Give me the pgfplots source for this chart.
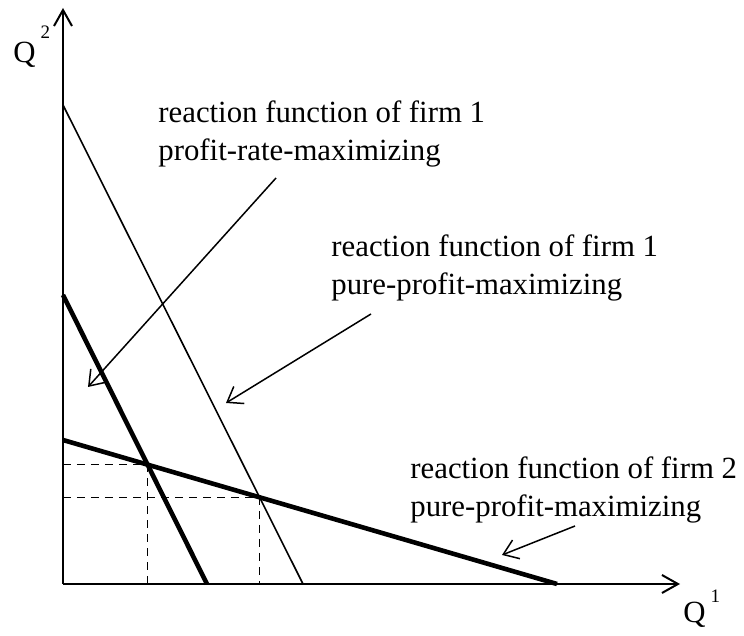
\documentclass[border=0pt]{standalone}
\usepackage{pgfplots}
\pgfplotsset{compat=1.18}
\usepackage{fontspec}
\setmainfont{Liberation Serif}
\usetikzlibrary{arrows.meta}

\tikzset{lbl/.style={font=\fontsize{15.4}{19}\selectfont, inner sep=0pt}}

\begin{document}
\begin{tikzpicture}
\begin{axis}[
    x=0.5pt, y=0.5pt,
    xmin=0, xmax=617,
    ymin=0, ymax=576,
    axis lines=left,
    axis line style={line width=1pt, -{Straight Barb[length=8pt,width=9pt,line width=1pt]}},
    xtick=\empty, ytick=\empty,
    clip=false,
]
% reaction functions
\addplot[black, line width=0.8pt] coordinates {(0,479) (240,0)};
\addplot[black, line width=2.3pt] coordinates {(0,289) (144,0)};
\addplot[black, line width=2.3pt] coordinates {(0,144) (494,0)};
% equilibria
\addplot[black, line width=0.5pt, dash pattern=on 4pt off 3pt] coordinates {(0,119.4) (84.5,119.4) (84.5,0)};
\addplot[black, line width=0.5pt, dash pattern=on 4pt off 3pt] coordinates {(0,86.7) (196.5,86.7) (196.5,0)};

% annotations
\draw[line width=0.75pt, -{Straight Barb[length=7pt,width=10pt]}] (axis cs:213,406) -- (axis cs:25,197);
\draw[line width=0.75pt, -{Straight Barb[length=7pt,width=10pt]}] (axis cs:308,270) -- (axis cs:163,181);
\draw[line width=0.75pt, -{Straight Barb[length=7pt,width=10pt]}] (axis cs:512,58) -- (axis cs:439,29);

\node[lbl, anchor=west, align=left] at (axis cs:95,450) {reaction function of firm 1\\profit-rate-maximizing};
\node[lbl, anchor=west, align=left] at (axis cs:268,316) {reaction function of firm 1\\pure-profit-maximizing};
\node[lbl, anchor=west, align=left] at (axis cs:347,94) {reaction function of firm 2\\pure-profit-maximizing};

\node[lbl, anchor=base west] at (axis cs:-50,521) {Q\hspace{2.5pt}\raisebox{12pt}{\fontsize{9.5}{10}\selectfont 2}};
\node[lbl, anchor=base west] at (axis cs:620,-39) {Q\hspace{2.5pt}\raisebox{10pt}{\fontsize{9.5}{10}\selectfont 1}};

% page extent
\path (axis cs:-63,-52) rectangle (axis cs:681,584);
\end{axis}
\end{tikzpicture}
\end{document}
